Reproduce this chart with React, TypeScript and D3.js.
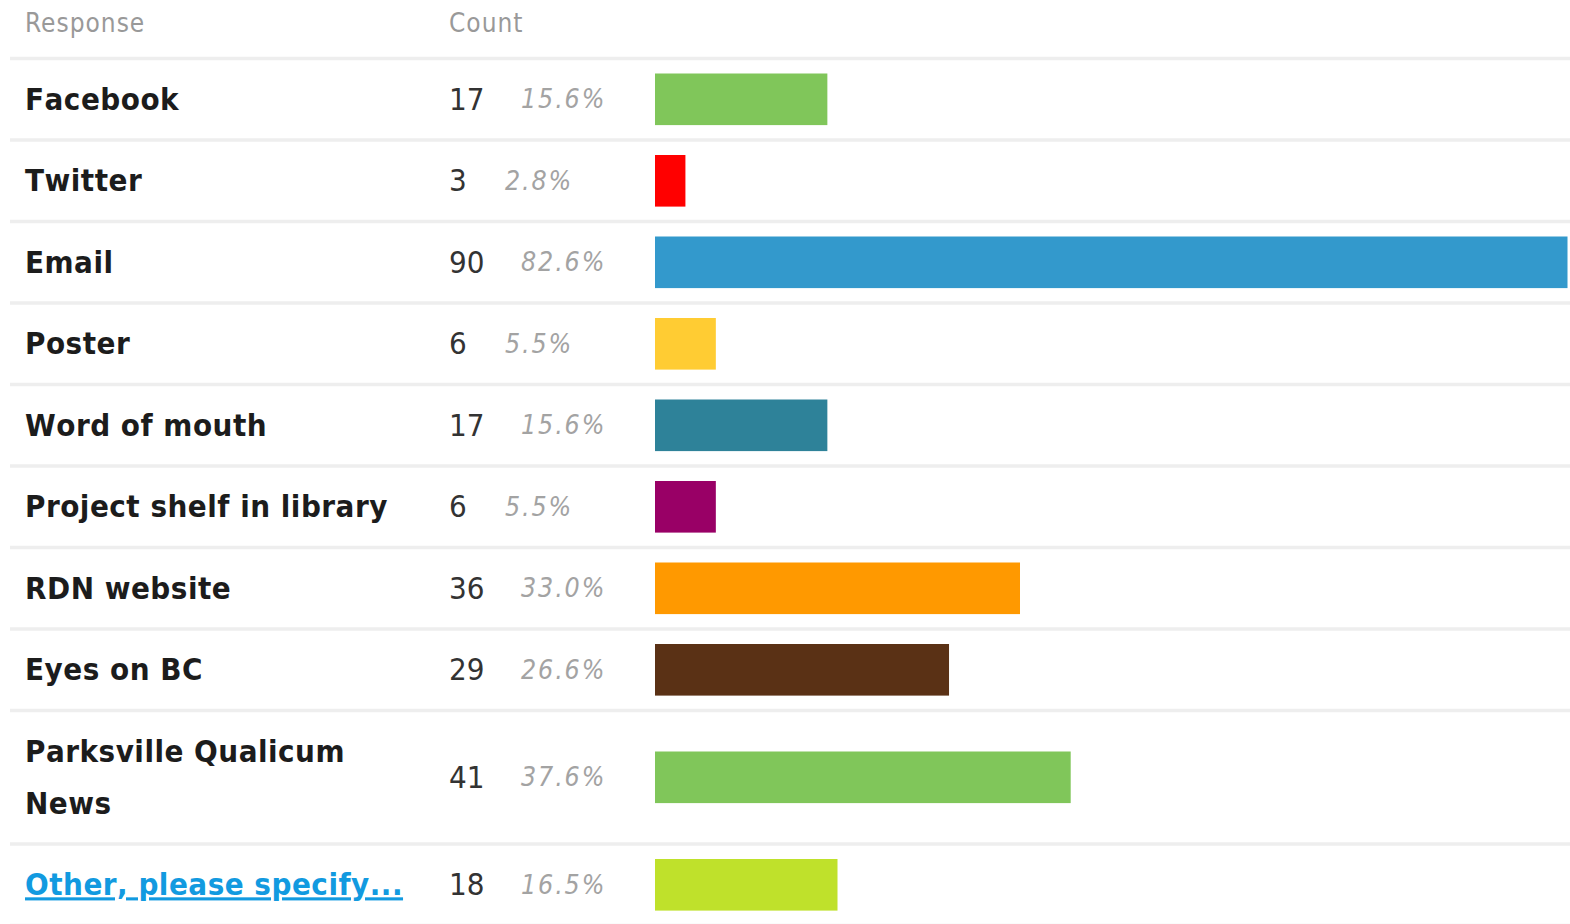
import React from "react";
import * as d3 from "d3";

const responses: string[][] = [
  ["Facebook"],
  ["Twitter"],
  ["Email"],
  ["Poster"],
  ["Word of mouth"],
  ["Project shelf in library"],
  ["RDN website"],
  ["Eyes on BC"],
  ["Parksville Qualicum", "News"],
  ["Other, please specify..."],
];
const counts: number[] = [17, 3, 90, 6, 17, 6, 36, 29, 41, 18];
const percents: string[] = ["15.6%", "2.8%", "82.6%", "5.5%", "15.6%", "5.5%", "33.0%", "26.6%", "37.6%", "16.5%"];
const colors: string[] = ["#80c65a", "#ff0000", "#3399cc", "#ffcc33", "#2e8299", "#990066", "#ff9900", "#5a3115", "#80c65a", "#bfe12b"];
const isLink: boolean[] = [false, false, false, false, false, false, false, false, false, true];

const W = 1570;
const H = 924;
const headerBottom = 60.3;
const baseRowH = 78;
const lineGap = 3.5;
const extraLineH = 52;
const barX = 655;

const FONT = "'DejaVu Sans Condensed', 'DejaVu Sans', sans-serif";

export default function App() {
  const x = d3.scaleLinear().domain([0, 90]).range([0, 912.5]);

  const rows: { top: number; h: number }[] = [];
  let y = headerBottom;
  responses.forEach((lines) => {
    const h = baseRowH + (lines.length - 1) * extraLineH;
    rows.push({ top: y, h });
    y += h + lineGap;
  });

  const sepYs = [headerBottom - lineGap / 2, ...rows.map((r) => r.top + r.h + lineGap / 2)];

  return (
    <svg width={W} height={H} style={{ position: "absolute", left: 0, top: 0, background: "#fff" }} fontFamily={FONT}>
      <rect x={0} y={0} width={W} height={H} fill="#fff" />
      <text x={25} y={32} fontSize={26} fill="#999" letterSpacing={1}>Response</text>
      <text x={449} y={32} fontSize={26} fill="#999" letterSpacing={1}>Count</text>
      {sepYs.map((sy, i) => (
        <line key={"s" + i} x1={10} x2={W} y1={sy} y2={sy} stroke="#eeeeee" strokeWidth={3.5} />
      ))}
      {responses.map((lines, i) => {
        const r = rows[i];
        const cy = r.top + r.h / 2;
        const lineStart = cy - ((lines.length - 1) * extraLineH) / 2;
        return (
          <g key={i}>
            {lines.map((ln, j) => (
              <text
                key={j}
                x={25}
                y={lineStart + j * extraLineH}
                dy="0.34em"
                fontSize={31}
                fontWeight="bold"
                letterSpacing={0.5}
                style={{ fontKerning: "none" }}
                fill={isLink[i] ? "#129ae0" : "#1c1c1c"}
                textDecoration={isLink[i] ? "underline" : undefined}
              >
                {ln}
              </text>
            ))}
            <text x={449} y={cy} dy="0.34em" fontSize={31} fill="#333">{counts[i]}</text>
            <text
              x={counts[i] >= 10 ? 521 : 505}
              y={cy}
              dy="0.34em"
              fontSize={26.5}
              fontStyle="italic"
              fill="#a3a3a3"
              letterSpacing={1.9}
            >
              {percents[i]}
            </text>
            <rect x={barX} y={cy - 25.8} width={x(counts[i])} height={51.6} fill={colors[i]} />
          </g>
        );
      })}
    </svg>
  );
}
